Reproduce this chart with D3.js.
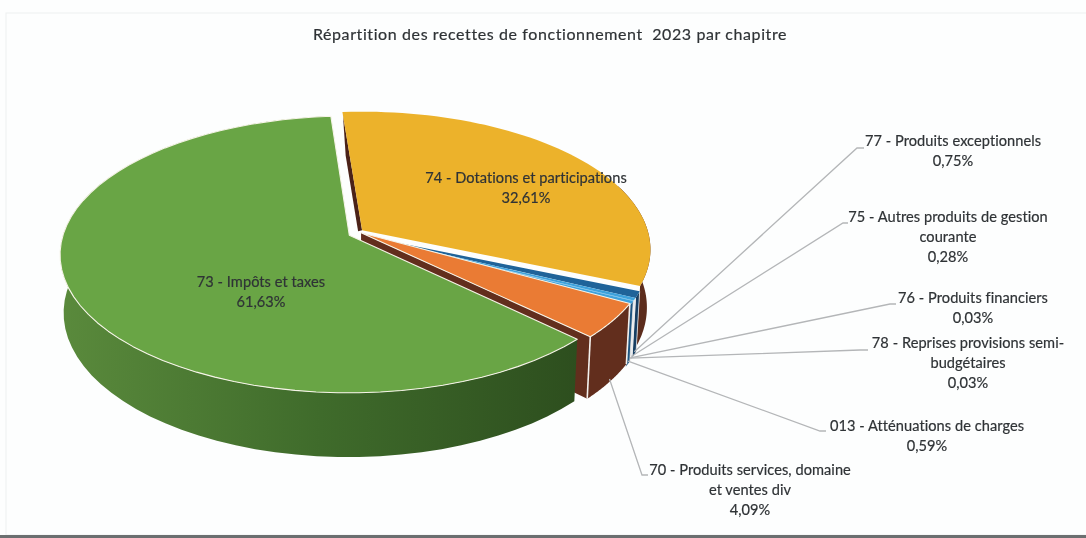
<!DOCTYPE html>
<html>
<head>
<meta charset="utf-8">
<script src="https://cdn.jsdelivr.net/npm/d3@7"></script>
<style>
  html, body { margin: 0; padding: 0; background: #fdfefe; overflow: hidden; }
  svg { display: block; filter: blur(0.35px); }
  text { font-family: Lato, "Open Sans", sans-serif; fill: #2f3336; stroke: #2f3336; stroke-width: 0.2px; }
</style>
</head>
<body>
<div id="chart"></div>
<script>
// Values, clockwise from the green slice
const codes = ["73", "74", "77", "75", "76", "78", "013", "70"];
const names = [
    ["73 - Impôts et taxes"],
    ["74 - Dotations et participations"],
    ["77 - Produits exceptionnels"],
    ["75 - Autres produits de gestion", "courante"],
    ["76 - Produits financiers"],
    ["78 - Reprises provisions semi-", "budgétaires"],
    ["013 - Atténuations de charges"],
    ["70 - Produits services, domaine", "et ventes div"]
];
const values = [61.63, 32.61, 0.75, 0.28, 0.03, 0.03, 0.59, 4.09];
const topColors = ["#69a545", "#ecb22b", "#1f6399", "#3ea2dc", "#3ea2dc", "#3ea2dc", "#3ea2dc", "#ea7b34"];
const wallColors = ["url(#greenWall)", "#5c2c1c", "#173f63", "#dfe8f0", "#dfe8f0", "#dfe8f0", "#1d5580", "#622e1d"];

const title = "Répartition des recettes de fonctionnement  2023 par chapitre";

// Where each label sits: [centre x, first baseline, elbow x, elbow y, end x]
const labelLayout = {
    "73": [261, 287],
    "74": [526, 183],
    "77": [953, 146, 857, 148, 864],
    "75": [948, 222, 843, 223, 848],
    "76": [973, 303, 890, 304, 896],
    "78": [968, 348, 860, 350, 868],
    "013": [927, 431, 820, 431, 826],
    "70": [750, 475, 642, 475, 648]
};

const width = 1086, height = 538;

const svg = d3.select("#chart").append("svg")
    .attr("width", width)
    .attr("height", height);

// Frame of the scanned page
svg.append("rect").attr("x", 6).attr("y", 13).attr("width", width).attr("height", 522)
    .attr("fill", "none").attr("stroke", "#eef0f0");
svg.append("rect").attr("x", 0).attr("y", 535).attr("width", width).attr("height", 3)
    .attr("fill", "#6b6f70");

const gradient = svg.append("defs").append("linearGradient")
    .attr("id", "greenWall")
    .attr("gradientUnits", "userSpaceOnUse")
    .attr("x1", 60).attr("x2", 580).attr("y1", 0).attr("y2", 0);
gradient.append("stop").attr("offset", 0).attr("stop-color", "#5a8a3c");
gradient.append("stop").attr("offset", 0.5).attr("stop-color", "#3f6b2b");
gradient.append("stop").attr("offset", 1).attr("stop-color", "#2d4e1e");

// Perspective settings for the tilted disc
const cx = 355, cy = 234, rx = 286, ry = 135.4, depth = 58;
const tilt = 0.138, shrink = 0.012, explode = 0.022;
// small screen shift of the slices that sit further out than the rest
const nudgeX = [0, 2, 0, 0, 0, 0, 0, 1];
const nudgeY = [0, -2, 0, 0, 0, 0, 0, -3];

const rad = d => d * Math.PI / 180;
const pie = d3.pie().sort(null)
    .startAngle(rad(133.8))
    .endAngle(rad(133.8) + 2 * Math.PI);
const slices = pie(values);

// Disc position (angle, radius) of a slice to screen, z = 0 top, 1 bottom
function project(s, angle, r, z) {
    const mid = (s.startAngle + s.endAngle) / 2;
    const u = Math.sin(angle) * r + explode * Math.sin(mid);
    const v = -Math.cos(angle) * r - explode * Math.cos(mid);
    const w = 1 - tilt * v + shrink * z;
    return [cx + nudgeX[s.index] + rx * u / w, cy + nudgeY[s.index] + (ry * v + depth * z) / w];
}

const line = d3.line();
const arcPoints = (s, z, from) => d3.range(0, 61).map(i => {
    const a0 = from === undefined ? s.startAngle : from;
    return project(s, a0 + (s.endAngle - a0) * i / 60, 1, z);
});

// Painted back to front: yellow, thin blue ones, orange, green last
const order = [1, 2, 3, 4, 5, 6, 7, 0];

order.forEach(i => {
    const s = slices[i];
    const g = svg.append("g");
    const top = arcPoints(s, 0);
    const apex = project(s, 0, 0, 0);

    // cut face on the clockwise side, only the orange one really shows
    if (i === 7) {
        g.append("path")
            .attr("d", line([apex, project(s, s.endAngle, 1, 0), project(s, s.endAngle, 1, 1), project(s, 0, 0, 1)]) + "Z")
            .attr("fill", "#622e1d");
    }

    // the thin dark face showing left of the yellow slice
    if (i === 1) {
        const corner = project(s, s.startAngle, 0.97, 0);
        const foot = project(s, s.startAngle, 0.6, 0);
        g.append("path")
            .attr("d", line([corner, apex, [apex[0] - 4, apex[1] + 1], [foot[0] - 4, foot[1]]]) + "Z")
            .attr("fill", "#4a2218");
    }

    // outer wall, yellow only shows its front part
    const from = i === 1 ? rad(360 + 70) : undefined;
    const wallTop = arcPoints(s, 0, from);
    const wallBottom = arcPoints(s, 1, from);
    g.append("path")
        .attr("d", line(wallTop.concat(wallBottom.slice().reverse())) + "Z")
        .attr("fill", wallColors[i]);

    // pale lines on the wall corners, except green and yellow
    if (i > 1) {
        [s.startAngle, s.endAngle].forEach(a => {
            g.append("path")
                .attr("d", line([project(s, a, 1, 0), project(s, a, 1, 1)]))
                .attr("stroke", "#f4f1ee")
                .attr("stroke-width", i === 7 ? 1.6 : 0.7)
                .attr("fill", "none");
        });
    }

    // top face, only orange and green carry a pale rim
    g.append("path")
        .attr("d", line([apex].concat(top)) + "Z")
        .attr("fill", topColors[i])
        .attr("stroke", (i === 0 || i === 7) ? "#f6f4e8" : "none")
        .attr("stroke-width", 1.1)
        .attr("stroke-linejoin", "round");
});

// Leader lines start at the foot of the slice wall
const fmt = v => v.toFixed(2).replace(".", ",") + "%";

slices.forEach((s, i) => {
    const code = codes[i];
    const p = labelLayout[code];
    if (p.length > 2) {
        const mid = (s.startAngle + s.endAngle) / 2;
        svg.append("path")
            .attr("d", line([project(s, mid, 1, 0.95), [p[2], p[3]], [p[4], p[3]]]))
            .attr("fill", "none")
            .attr("stroke", "#b4b6b8")
            .attr("stroke-width", 1.3);
    }
    names[i].concat([fmt(values[i])]).forEach((t, j) => {
        svg.append("text")
            .attr("x", p[0])
            .attr("y", p[1] + j * 20)
            .attr("text-anchor", "middle")
            .attr("font-size", 14.6)
            .attr("letter-spacing", 0.05)
            .text(t);
    });
});

svg.append("text")
    .attr("x", 550)
    .attr("y", 40)
    .attr("text-anchor", "middle")
    .attr("font-size", 16)
    .attr("letter-spacing", 0.6)
    .style("white-space", "pre")
    .text(title);
</script>
</body>
</html>
